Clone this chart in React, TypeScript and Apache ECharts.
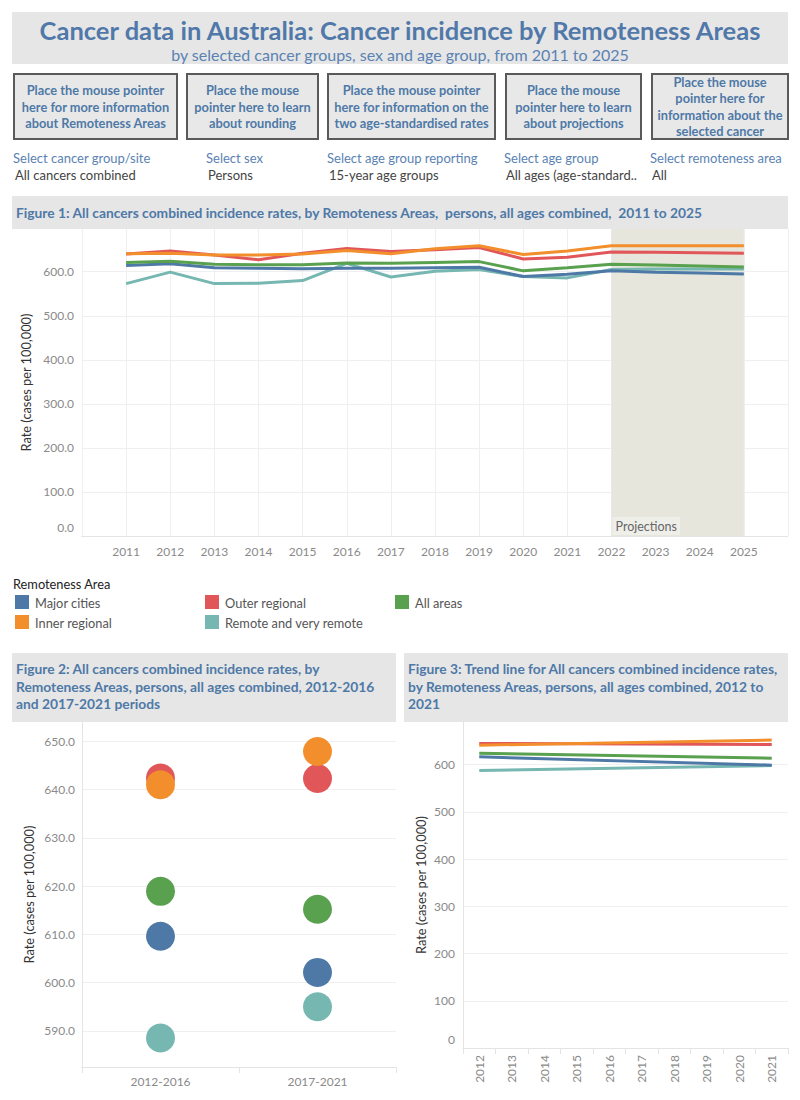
import React, { useEffect, useRef } from "react";
import * as echarts from "echarts";

const FONT = "Lato, 'Noto Sans', sans-serif";

// ---------- Figure 1 data ----------
const years = [2011, 2012, 2013, 2014, 2015, 2016, 2017, 2018, 2019, 2020, 2021, 2022, 2023, 2024, 2025];
const majorCities = [614, 618, 609, 608, 607, 608, 608, 609, 610, 589, 594, 602, 599, 597, 595];
const innerRegional = [641, 642, 638, 638, 640, 648, 641, 652, 659, 639, 647, 659, 659, 659, 659];
const outerRegional = [640, 647, 638, 627, 642, 653, 646, 650, 655, 629, 633, 645, 644, 643, 642];
const remoteVeryRemote = [573, 599, 573, 574, 580, 619, 588, 601, 605, 589, 586, 605, 606, 606, 606];
const allAreas = [621, 624, 617, 616, 616, 620, 619, 621, 623, 602, 609, 617, 615, 613, 611];
const projectionStart = 2022;
const projectionEnd = 2025;

// ---------- Figure 2 data ----------
const periods = ["2012-2016", "2017-2021"];
const periodMajor = [609.6, 602.1];
const periodInner = [641.0, 647.9];
const periodOuter = [642.4, 642.3];
const periodRemote = [588.5, 595.0];
const periodAll = [618.9, 615.2];

// ---------- Figure 3 data (trend line end points) ----------
const trendYears = ["2012", "2013", "2014", "2015", "2016", "2017", "2018", "2019", "2020", "2021"];
const trendMajor = [616.3, 598.7];
const trendInner = [641.0, 651.7];
const trendOuter = [644.5, 642.4];
const trendRemote = [587.3, 597.9];
const trendAll = [624.0, 613.5];

const areaNames = ["Major cities", "Inner regional", "Outer regional", "Remote and very remote", "All areas"];
const areaColors = ["#4e79a7", "#f28e2b", "#e15759", "#76b7b2", "#59a14f"];

const buttonTexts = [
  "Place the mouse pointer\nhere for more information\nabout Remoteness Areas",
  "Place the mouse\npointer here to learn\nabout rounding",
  "Place the mouse pointer\nhere for information on the\ntwo age-standardised rates",
  "Place the mouse\npointer here to learn\nabout projections",
  "Place the mouse\npointer here for\ninformation about the\nselected cancer",
];
const filterLabels = ["Select cancer group/site", "Select sex", "Select age group reporting", "Select age group", "Select remoteness area"];
const filterValues = ["All cancers combined", "Persons", "15-year age groups", "All ages (age-standard..", "All"];

const fig1Title = "Figure 1: All cancers combined incidence rates, by Remoteness Areas,  persons, all ages combined,  2011 to 2025";
const fig2Title = "Figure 2: All cancers combined incidence rates, by\nRemoteness Areas, persons, all ages combined, 2012-2016\nand 2017-2021 periods";
const fig3Title = "Figure 3: Trend line for All cancers combined incidence rates,\nby Remoteness Areas, persons, all ages combined, 2012 to\n2021";

const BLUE_TEXT = "#4e79a7";
const GRID_COLOR = "#efefef";
const LABEL_COLOR = "#8a8a8a";

export default function App() {
  const ref = useRef<HTMLDivElement>(null);

  useEffect(() => {
    if (!ref.current) return;
    const chart = echarts.init(ref.current, null, { renderer: "svg" });

    const fig1Series = [majorCities, innerRegional, outerRegional, remoteVeryRemote, allAreas];
    const fig2Series = [periodMajor, periodInner, periodOuter, periodRemote, periodAll];
    const fig3Series = [trendMajor, trendInner, trendOuter, trendRemote, trendAll];
    const drawOrder1 = [3, 0, 4, 2, 1];
    const drawOrder2 = [0, 3, 4, 2, 1];

    const series: any[] = [];
    series.push({
      type: "line",
      xAxisIndex: 0,
      yAxisIndex: 0,
      data: [],
      z: 1,
      silent: true,
      markArea: {
        silent: true,
        itemStyle: { color: "#e6e6dc" },
        label: {
          show: true,
          position: "insideBottomLeft",
          color: "#666",
          fontSize: 12.5,
          fontFamily: FONT,
          backgroundColor: "#efefea",
          padding: [3, 3, 2, 3],
          distance: 1,
        },
        data: [[{ xAxis: projectionStart, name: "Projections" }, { xAxis: projectionEnd }]],
      },
    });
    drawOrder1.forEach((i) => {
      series.push({
        name: areaNames[i],
        type: "line",
        xAxisIndex: 0,
        yAxisIndex: 0,
        z: 3,
        showSymbol: false,
        symbol: "none",
        lineStyle: { width: 3, color: areaColors[i] },
        itemStyle: { color: areaColors[i] },
        data: years.map((y, k) => [y, fig1Series[i][k]]),
      });
    });
    drawOrder2.forEach((i) => {
      series.push({
        name: areaNames[i],
        type: "scatter",
        xAxisIndex: 1,
        yAxisIndex: 1,
        symbolSize: 29,
        itemStyle: { color: areaColors[i], opacity: 1 },
        data: periods.map((p, k) => [p, fig2Series[i][k]]),
      });
    });
    drawOrder1.forEach((i) => {
      series.push({
        name: areaNames[i],
        type: "line",
        xAxisIndex: 2,
        yAxisIndex: 2,
        showSymbol: false,
        symbol: "none",
        lineStyle: { width: 3, color: areaColors[i] },
        data: [
          [trendYears[0], fig3Series[i][0]],
          [trendYears[trendYears.length - 1], fig3Series[i][1]],
        ],
      });
    });

    const graphic: any[] = [];
    // header
    graphic.push({ type: "rect", shape: { x: 12, y: 12, width: 776, height: 52 }, style: { fill: "#e6e6e6" } });
    graphic.push({
      type: "text", x: 400, y: 30,
      style: { text: "Cancer data in Australia: Cancer incidence by Remoteness Areas", fontSize: 25.5, fontWeight: "bold", fontFamily: FONT, fill: "#5078a9", align: "center", verticalAlign: "middle" },
    });
    graphic.push({
      type: "text", x: 400, y: 54,
      style: { text: "by selected cancer groups, sex and age group, from 2011 to 2025", fontSize: 16, fontFamily: FONT, fill: "#5a82b2", align: "center", verticalAlign: "middle" },
    });
    // buttons
    const btnX = [14, 187, 328, 506, 652];
    const btnW = [163, 131, 167, 135, 136];
    buttonTexts.forEach((t, i) => {
      graphic.push({ type: "rect", shape: { x: btnX[i], y: 74, width: btnW[i], height: 65 }, style: { fill: "#e8e8e8", stroke: "#5a5a5a", lineWidth: 2 } });
      graphic.push({
        type: "text", x: btnX[i] + btnW[i] / 2, y: 106.5,
        style: { text: t, fontSize: 12.8, fontWeight: "bold", fontFamily: FONT, fill: BLUE_TEXT, align: "center", verticalAlign: "middle", lineHeight: 16.3 },
      });
    });
    // filters
    const filtX = [13, 206, 327, 504, 650];
    filterLabels.forEach((t, i) => {
      graphic.push({ type: "text", x: filtX[i], y: 158, style: { text: t, fontSize: 13, fontFamily: FONT, fill: "#5a82b2", verticalAlign: "middle" } });
      graphic.push({ type: "text", x: filtX[i] + 2, y: 175, style: { text: filterValues[i], fontSize: 13, fontFamily: FONT, fill: "#444", verticalAlign: "middle" } });
    });
    // figure headings
    graphic.push({ type: "rect", shape: { x: 12, y: 196, width: 776, height: 33 }, style: { fill: "#e6e6e6" } });
    graphic.push({ type: "text", x: 16, y: 212, style: { text: fig1Title, fontSize: 13.8, fontWeight: "bold", fontFamily: FONT, fill: BLUE_TEXT, verticalAlign: "middle" } });
    graphic.push({ type: "rect", shape: { x: 12, y: 653, width: 384, height: 69 }, style: { fill: "#e6e6e6" } });
    graphic.push({ type: "text", x: 16, y: 660, style: { text: fig2Title, fontSize: 13.8, fontWeight: "bold", fontFamily: FONT, fill: BLUE_TEXT, verticalAlign: "top", lineHeight: 17.5 } });
    graphic.push({ type: "rect", shape: { x: 404, y: 653, width: 384, height: 69 }, style: { fill: "#e6e6e6" } });
    graphic.push({ type: "text", x: 408, y: 660, style: { text: fig3Title, fontSize: 13.8, fontWeight: "bold", fontFamily: FONT, fill: BLUE_TEXT, verticalAlign: "top", lineHeight: 17.5 } });
    // legend
    graphic.push({ type: "text", x: 13, y: 584, style: { text: "Remoteness Area", fontSize: 12.8, fontFamily: FONT, fill: "#222", verticalAlign: "middle" } });
    areaNames.forEach((n, i) => {
      const col = Math.floor(i / 2);
      const row = i % 2;
      const x = 15 + col * 190;
      const y = 595 + row * 20;
      graphic.push({ type: "rect", shape: { x, y, width: 14, height: 14 }, style: { fill: areaColors[i] } });
      graphic.push({ type: "text", x: x + 20, y: y + 7.5, style: { text: n, fontSize: 12.8, fontFamily: FONT, fill: "#555", verticalAlign: "middle" } });
    });

    const yName = "Rate (cases per 100,000)";
    const yNameStyle = { color: "#333", fontSize: 12.8, fontFamily: FONT };
    const axisLabelStyle = { color: LABEL_COLOR, fontSize: 12, fontFamily: FONT };
    const zeroRich = { z: { color: LABEL_COLOR, fontSize: 12, fontFamily: FONT, padding: [0, 0, 18, 0] } };

    const option: any = {
      animation: false,
      backgroundColor: "#ffffff",
      textStyle: { fontFamily: FONT },
      grid: [
        { left: 82, top: 229, width: 706, height: 307, containLabel: false },
        { left: 82, top: 722, width: 314, height: 345, containLabel: false },
        { left: 463, top: 722, width: 325, height: 326, containLabel: false },
      ],
      xAxis: [
        {
          gridIndex: 0, type: "value", min: 2010, max: 2026, interval: 1,
          axisLine: { show: true, lineStyle: { color: "#e4e4e4" } },
          axisTick: { show: false },
          axisLabel: { ...axisLabelStyle, margin: 9, formatter: (v: number) => (v === 2010 || v === 2026 ? "" : String(v)) },
          splitLine: { show: true, lineStyle: { color: GRID_COLOR } },
        },
        {
          gridIndex: 1, type: "category", data: periods, boundaryGap: true,
          axisLine: { show: true, lineStyle: { color: "#e4e4e4" } },
          axisTick: { show: true, length: 6, lineStyle: { color: "#e4e4e4" } },
          axisLabel: { ...axisLabelStyle, margin: 8 },
          splitLine: { show: false },
        },
        {
          gridIndex: 2, type: "category", data: trendYears, boundaryGap: true,
          axisLine: { show: true, lineStyle: { color: "#e4e4e4" } },
          axisTick: { show: true, length: 6, lineStyle: { color: "#e4e4e4" } },
          axisLabel: { ...axisLabelStyle, margin: 7, rotate: 90, interval: 0 },
          splitLine: { show: false },
        },
      ],
      yAxis: [
        {
          gridIndex: 0, type: "value", min: 0, max: 697, interval: 100,
          name: yName, nameLocation: "middle", nameRotate: 90, nameGap: 47, nameTextStyle: yNameStyle,
          axisLine: { show: false },
          axisTick: { show: false },
          axisLabel: { ...axisLabelStyle, margin: 8, showMaxLabel: false, rich: zeroRich, formatter: (v: number) => (v === 0 ? "{z|0.0}" : v.toFixed(1)) },
          splitLine: { show: true, showMaxLine: false, lineStyle: { color: GRID_COLOR } },
        },
        {
          gridIndex: 1, type: "value", min: 582.5, max: 654, minInterval: 10, maxInterval: 10,
          name: yName, nameLocation: "middle", nameRotate: 90, nameGap: 47, nameTextStyle: yNameStyle,
          axisLine: { show: true, lineStyle: { color: "#e4e4e4" } },
          axisTick: { show: false },
          axisLabel: { ...axisLabelStyle, margin: 7, showMinLabel: false, showMaxLabel: false, formatter: (v: number) => v.toFixed(1) },
          splitLine: { show: true, showMinLine: false, showMaxLine: false, lineStyle: { color: GRID_COLOR } },
        },
        {
          gridIndex: 2, type: "value", min: 0, max: 690, interval: 100,
          name: yName, nameLocation: "middle", nameRotate: 90, nameGap: 36, nameTextStyle: yNameStyle,
          axisLine: { show: true, lineStyle: { color: "#e4e4e4" } },
          axisTick: { show: false },
          axisLabel: { ...axisLabelStyle, margin: 8, showMaxLabel: false, rich: zeroRich, formatter: (v: number) => (v === 0 ? "{z|0}" : String(v)) },
          splitLine: { show: true, showMaxLine: false, lineStyle: { color: GRID_COLOR } },
        },
      ],
      series,
      graphic,
    };

    chart.setOption(option);
    return () => chart.dispose();
  }, []);

  return <div ref={ref} style={{ position: "absolute", left: 0, top: 0, width: 800, height: 1100 }} />;
}
